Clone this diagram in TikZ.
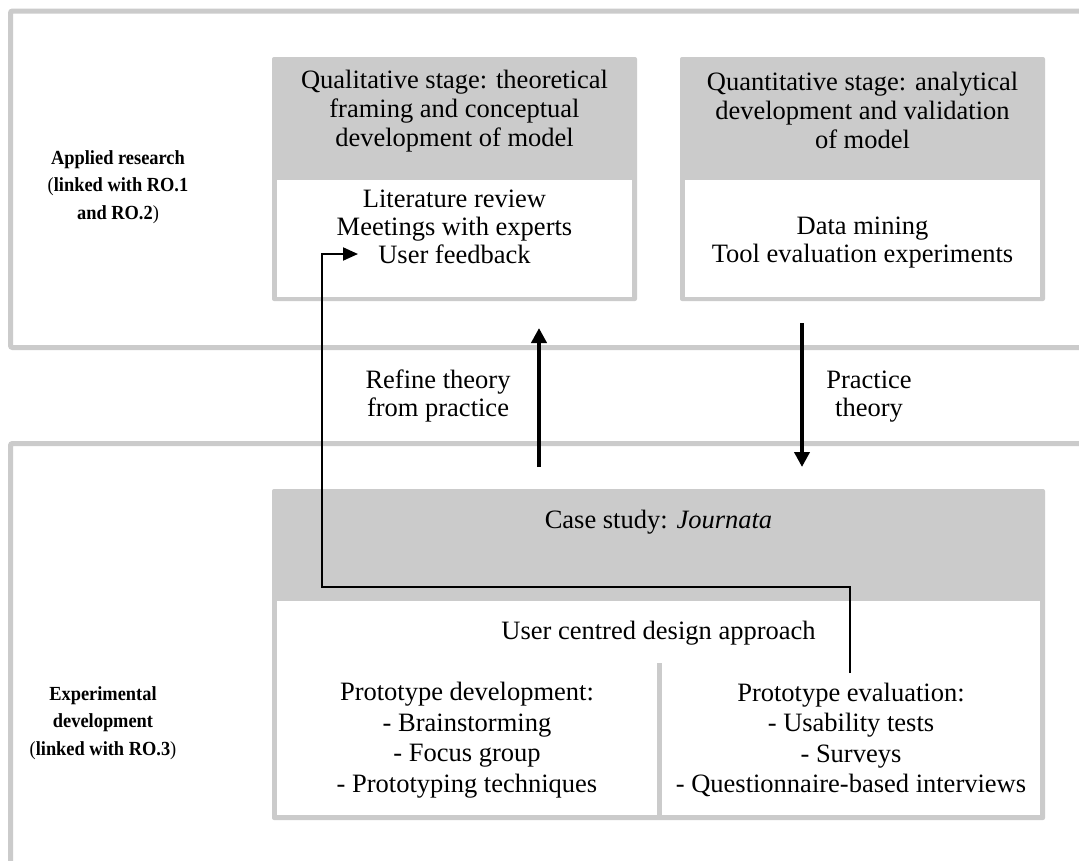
\documentclass[tikz,border=0pt]{standalone}
\usepackage{fontspec}
\setmainfont{Liberation Serif}
\newfontfamily\sidelabelfont{Liberation Serif}[FakeStretch=0.92]
\usetikzlibrary{arrows.meta}
\definecolor{framegray}{RGB}{203,203,203}
\begin{document}
\begin{tikzpicture}[x=1pt,y=-1pt,
  frame/.style={draw=framegray, line width=5pt, rounded corners=2pt},
  outerbox/.style={fill=framegray, rounded corners=2pt, inner sep=0pt},
  innerbox/.style={fill=white, inner sep=0pt},
  txt/.style={align=center, inner sep=0pt, font=\fontsize{26.5}{28}\selectfont},
  label/.style={align=center, inner sep=0pt, font=\sidelabelfont\fontsize{20}{27.5}\selectfont},
  bigarrow/.style={line width=4pt, -{Triangle[width=15pt,length=15pt]}},
  feedback/.style={line width=2pt, -{Triangle[width=13pt,length=15pt]}}]
\clip (0,0) rectangle (1079,860);
\fill[white] (0,0) rectangle (1079,860);

% the two research frames, open to the right (and below)
\draw[frame] (1100,11) -- (10.5,11) -- (10.5,347.5) -- (1100,347.5);
\draw[frame] (1100,443.5) -- (10.5,443.5) -- (10.5,880);

% qualitative stage box
\node[outerbox, minimum width=365pt, minimum height=244pt] (qual) at (454.5,179) {};
\node[innerbox, minimum width=355pt, minimum height=116.5pt] (qualIn) at (454.5,238.25) {};
\node[txt, font=\fontsize{26.5}{29}\selectfont] (qualHead) at (454.5,111)
  {Qualitative stage: theoretical\\framing and conceptual\\development of model};
\node[txt] (qualBody) at (454.5,227)
  {Literature review\\Meetings with experts\\User feedback};

% quantitative stage box
\node[outerbox, minimum width=365pt, minimum height=244pt] (quant) at (862.5,179) {};
\node[innerbox, minimum width=355pt, minimum height=116.5pt] (quantIn) at (862.5,238.25) {};
\node[txt, font=\fontsize{26.5}{29}\selectfont] (quantHead) at (862.5,110)
  {Quantitative stage: analytical\\development and validation\\of model};
\node[txt] (quantBody) at (862.5,243)
  {Data mining\\Tool evaluation experiments};

% case study box
\node[outerbox, minimum width=773pt, minimum height=331pt] (case) at (658.5,654.5) {};
\node[innerbox, minimum width=763pt, minimum height=214pt] (caseIn) at (658.5,708) {};
\draw[draw=framegray, line width=5pt] (659.5,663) -- (659.5,815);
\node[txt] (caseHead) at (658.5,522) {Case study: \textit{Journata}};
\node[txt] (ucd) at (658.5,633) {User centred design approach};
\node[txt, font=\fontsize{26.5}{30.5}\selectfont] (dev) at (467,740)
  {Prototype development:\\- Brainstorming\\- Focus group\\- Prototyping techniques};
\node[txt, font=\fontsize{26.5}{30.5}\selectfont] (eval) at (851,740)
  {Prototype evaluation:\\- Usability tests\\- Surveys\\- Questionnaire-based interviews};

% side labels
\node[label] (applied) at (118,187)
  {\textbf{Applied research}\\(\textbf{linked with RO.1}\\\textbf{and RO.2})};
\node[label] (experimental) at (103,723)
  {\textbf{Experimental}\\\textbf{development}\\(\textbf{linked with RO.3})};

% theory / practice arrows
\node[txt] (refine) at (438,396) {Refine theory\\from practice};
\node[txt] (practice) at (869,397) {Practice\\theory};
\coordinate (upFrom) at (539,467);
\coordinate (upTo) at (539,328);
\coordinate (downFrom) at (802,323);
\coordinate (downTo) at (802,467);
\draw[bigarrow] (upFrom) -- (upTo);
\draw[bigarrow] (downFrom) -- (downTo);

% user feedback loop
\coordinate (fbStart) at (850,673);
\coordinate (fbEnd) at (358,254);
\draw[feedback] (fbStart) -- (850,587) -- (322,587) -- (322,254) -- (fbEnd);
\end{tikzpicture}
\end{document}
